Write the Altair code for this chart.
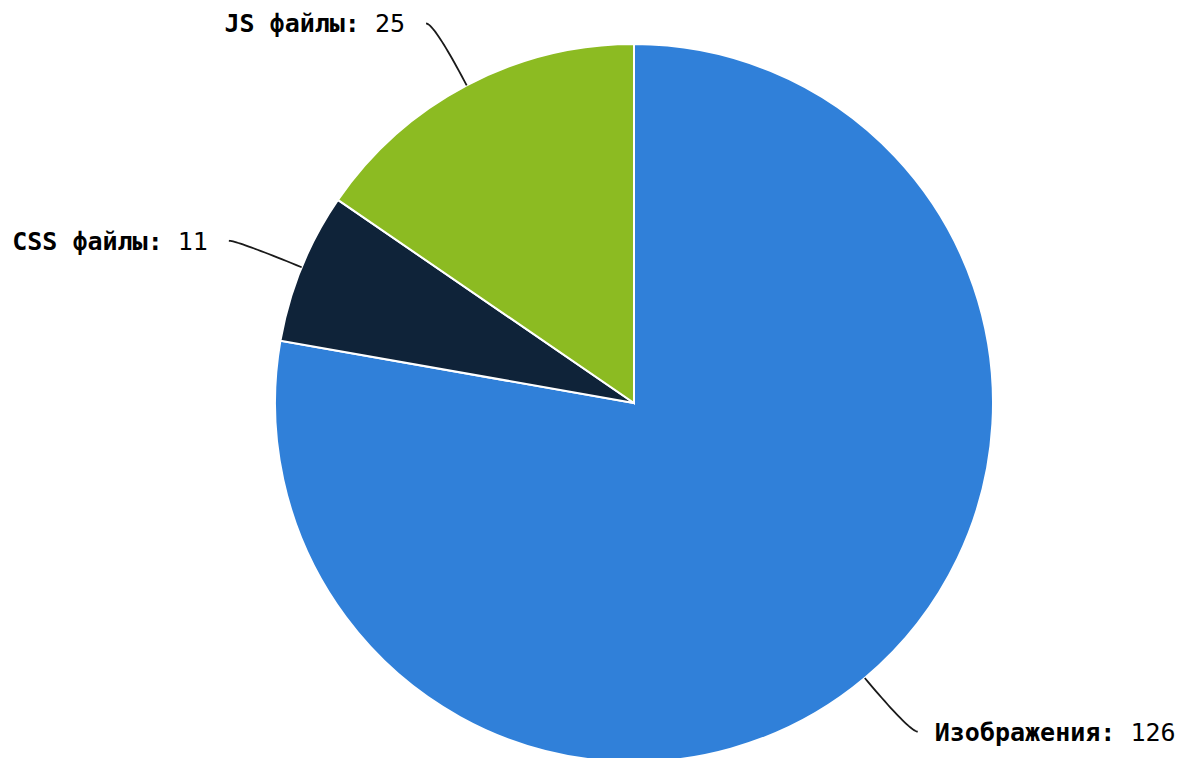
import math
import altair as alt
import pandas as pd

# ---- data ----
categories = ["Изображения", "CSS файлы", "JS файлы"]
values = [126, 11, 25]
colors = ["#3080d9", "#0f2339", "#8cbb22"]

# ---- layout ----
W, H = 1169, 750
CX, CY = 626, 395
R = 359
FONT = "DejaVu Sans Mono"
FS = 25
CW = 0.602 * FS  # monospace advance

total = sum(values)
pie_df = pd.DataFrame({"cat": categories, "val": values, "ord": list(range(len(values)))})

# leader lines + labels computed from the slice angles
line_rows, label_rows = [], []
cum = 0
for i, (c, v) in enumerate(zip(categories, values)):
    mid = (cum + v / 2) / total * 2 * math.pi
    cum += v
    s, co = math.sin(mid), math.cos(mid)
    p0 = (CX + R * s, CY - R * co)
    p1 = (CX + (R + 70) * s, CY - (R + 70) * co)
    side = 1 if s > 0 else -1
    p2 = (p1[0] + side * 8, p1[1])
    n = 24
    for k in range(n + 1):
        t = k / n
        x = (1 - t) ** 2 * p0[0] + 2 * (1 - t) * t * p1[0] + t ** 2 * p2[0]
        y = (1 - t) ** 2 * p0[1] + 2 * (1 - t) * t * p1[1] + t ** 2 * p2[1]
        line_rows.append({"cat": c, "k": k, "x": x, "y": y})
    bold = f"{c}:"
    norm = f"{v}"
    if side > 0:
        xb = p2[0] + 17
        xn = xb + (len(bold) + 1) * CW
        align = "left"
    else:
        xn = p2[0] - 21
        xb = xn - (len(norm) + 1) * CW
        align = "right"
    label_rows.append({"cat": c, "bold": bold, "norm": norm, "xb": xb, "xn": xn,
                       "y": p2[1] + 1, "align": align})

lines_df = pd.DataFrame(line_rows)
labels_df = pd.DataFrame(label_rows)

xs = alt.Scale(domain=[0, W], range=[0, W])
ys = alt.Scale(domain=[0, H], range=[0, H])

pie = alt.Chart(pie_df).mark_arc(outerRadius=R, stroke="white", strokeWidth=2).encode(
    theta=alt.Theta("val:Q", stack=True),
    order=alt.Order("ord:Q"),
    color=alt.Color("cat:N", scale=alt.Scale(domain=categories, range=colors), legend=None),
    x=alt.value(CX),
    y=alt.value(CY),
)

leaders = alt.Chart(lines_df).mark_line(color="#1a1a1a", strokeWidth=1.8).encode(
    x=alt.X("x:Q", scale=xs, axis=None),
    y=alt.Y("y:Q", scale=ys, axis=None),
    detail="cat:N",
    order="k:Q",
)

texts = []
for al in ["left", "right"]:
    sub = labels_df[labels_df["align"] == al]
    if len(sub) == 0:
        continue
    tb = alt.Chart(sub).mark_text(font=FONT, fontSize=FS, fontWeight="bold", align=al,
                                  baseline="middle", color="#000000").encode(
        x=alt.X("xb:Q", scale=xs, axis=None),
        y=alt.Y("y:Q", scale=ys, axis=None),
        text="bold:N",
    )
    tn = alt.Chart(sub).mark_text(font=FONT, fontSize=FS, fontWeight="normal", align=al,
                                  baseline="middle", color="#000000").encode(
        x=alt.X("xn:Q", scale=xs, axis=None),
        y=alt.Y("y:Q", scale=ys, axis=None),
        text="norm:N",
    )
    texts += [tb, tn]

chart = alt.layer(pie, leaders, *texts).properties(
    width=W, height=H, padding=0, autosize=alt.AutoSizeParams(type="none")
).configure_view(stroke=None)

chart.save("out.html", embed_options={"renderer": "svg", "actions": False})
